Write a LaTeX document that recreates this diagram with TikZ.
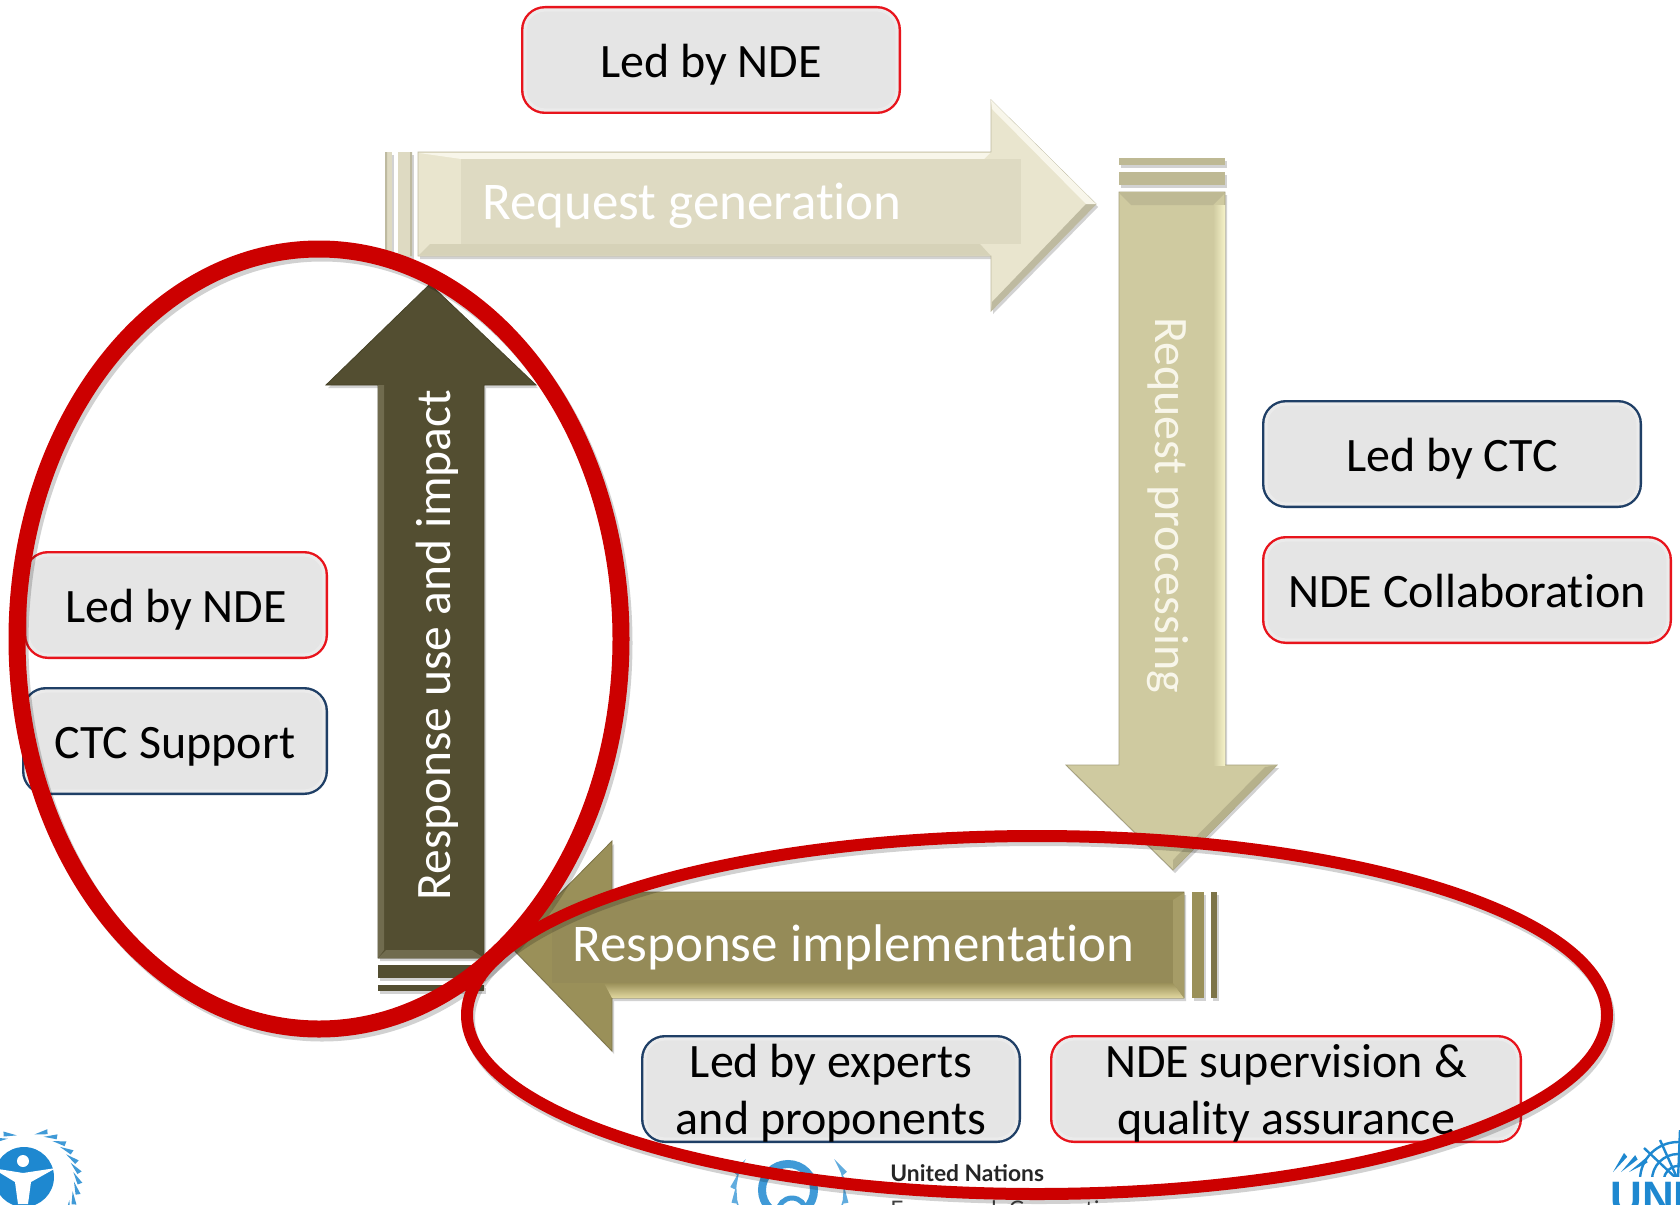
\documentclass[tikz,border=0pt]{standalone}
\usepackage{fontspec}
\setmainfont[Ligatures=NoCommon]{Carlito}
\newfontfamily\logofont{Lato}
\newfontfamily\unfont{Liberation Sans}
\usetikzlibrary{shadows}
\definecolor{ndered}{HTML}{E8141C}
\definecolor{ctcblue}{HTML}{1F3F66}
\definecolor{ringred}{HTML}{CC0000}
\definecolor{logoblue}{HTML}{1E88D0}
\definecolor{paleface}{HTML}{E9E5CE}
\definecolor{palehi}{HTML}{F8F6EA}
\definecolor{palelow}{HTML}{D6D2B8}
\definecolor{paleedge}{HTML}{BEBAA0}
\definecolor{palepanel}{HTML}{DEDAC2}
\definecolor{sandface}{HTML}{CFCAA0}
\definecolor{sandhi}{HTML}{F5F2C8}
\definecolor{sandlow}{HTML}{BEB994}
\definecolor{sandedge}{HTML}{A5A07D}
\definecolor{oliveface}{HTML}{9A9059}
\definecolor{olivehi}{HTML}{E2D8A0}
\definecolor{olivemid}{HTML}{A69C67}
\definecolor{olivepanel}{HTML}{958B58}
\definecolor{oliveedge}{HTML}{7D7448}
\definecolor{darkface}{HTML}{534E31}
\definecolor{darkhi}{HTML}{706B4E}
\definecolor{darkedge}{HTML}{464228}
\tikzset{
    ledbox/.style={rounded corners=10pt, fill=black!10, draw=white!92!black, line width=1.6pt,
        minimum height=50pt, outer sep=0pt, inner sep=0pt, align=center, text height=23pt, text depth=5.5pt,
        font=\fontsize{24}{28.5}\selectfont},
    tallbox/.style={text height=47.8pt, text depth=2pt},
    redbox/.style={ledbox, preaction={draw=ndered, line width=4pt}},
    bluebox/.style={ledbox, preaction={draw=ctcblue, line width=4pt}},
    stagelabel/.style={text=white, font=\fontsize{26.5}{30}\selectfont, inner sep=0pt},
    stageshape/.style={drop shadow={shadow xshift=1pt, shadow yshift=-1.5pt, opacity=0.35}},
    ring/.style={draw=ringred},
    ringshadow/.style={draw=black, opacity=0.18}
}
\begin{document}
\begin{tikzpicture}[x=0.5pt, y=-0.5pt]
    \clip (0, 0) rectangle (1680, 1204);
    \fill[white] (0, 0) rectangle (1680, 1204);
    % logos along the bottom
    \fill[logoblue] (24, 1177) circle (30);
    \fill[white] (23, 1161) circle (6);
    \fill[white] (-8, 1168) -- (23, 1173) -- (56, 1168) -- (31, 1182) -- (28, 1204) -- (18, 1204) -- (15, 1182) -- cycle;
    \foreach \ang in {-82, -70, ..., 34}
        \fill[logoblue!85] ({28 + 46*cos(\ang)}, {1180 + 46*sin(\ang)}) -- ++({\ang + 60}:14) -- ++({\ang + 170}:5) -- cycle;
    \foreach \ang in {-128, -116, -104}
        \fill[logoblue!85] ({28 + 46*cos(\ang)}, {1180 + 46*sin(\ang)}) -- ++({\ang - 60}:14) -- ++({\ang - 170}:5) -- cycle;
    \draw[logoblue!85, line width=4pt] (788, 1190) circle (26);
    \draw[logoblue!85, line width=2.5pt] (792, 1212) circle (14);
    \foreach \ang in {-35, -20, -5, 10} {
        \fill[logoblue!70] ({790 + 54*cos(\ang)}, {1190 + 54*sin(\ang)}) -- ++({\ang + 80}:18) -- ++({\ang + 175}:6) -- cycle;
        \fill[logoblue!70] ({790 - 54*cos(\ang)}, {1190 + 54*sin(\ang)}) -- ++({100 - \ang}:18) -- ++({5 - \ang}:6) -- cycle;
    }
    \node[anchor=base west, inner sep=0pt, font=\logofont\bfseries\fontsize{11.4}{12}\selectfont, text=black!85] (unitedtxt) at (890, 1181) {United Nations};
    \node[anchor=base west, inner sep=0pt, font=\logofont\fontsize{11.4}{12}\selectfont, text=black!75] (frameworktxt) at (890, 1217) {Framework Convention on};
    \begin{scope}
        \clip (1600, 1130) rectangle (1680, 1176);
        \draw[logoblue, line width=1.2pt] (1678, 1180) circle (38) circle (26) circle (14);
        \draw[logoblue, line width=1.2pt] (1678, 1180) -- (1644, 1148) (1678, 1180) -- (1660, 1140) (1678, 1180) -- (1680, 1130);
    \end{scope}
    \foreach \pos/\ang in {1613/-60, 1621/-50, 1629/-40}
        \fill[logoblue] (\pos, 1172) -- ++(\ang:22) -- ++(\ang + 110:5) -- cycle;
    \node[anchor=base west, inner sep=0pt, font=\unfont\bfseries\fontsize{22}{24}\selectfont, text=logoblue] (unitxt) at (1610, 1212) {UNI};
    % request generation
    \fill[stageshape, fill=palepanel] (385, 152) rectangle (392, 256);
    \fill[stageshape, fill=palepanel] (398, 152) rectangle (412, 256);
    \fill[paleedge] (385, 152) rectangle (387, 256) (410, 152) rectangle (412, 256);
    \path[stageshape, fill=paleface, draw=paleedge, line width=0.4pt] (418, 152) -- (991, 152) -- (991, 100) -- (1096, 204) -- (991, 311) -- (991, 256) -- (418, 256) -- cycle;
    \fill[palehi] (419, 153) -- (990, 153) -- (984, 159) -- (461, 159) -- cycle;
    \fill[palelow] (419, 255) -- (990, 255) -- (980, 244) -- (430, 244) -- cycle;
    \fill[paleedge] (1096, 204) -- (991, 311) -- (992, 302) -- (1086, 204) -- cycle;
    \fill[palehi] (1096, 204) -- (991, 100) -- (992, 109) -- (1086, 204) -- cycle;
    \fill[palepanel] (461, 159) rectangle (1021, 244);
    \node[stagelabel, anchor=west] (generationtxt) at (482, 206) {Request generation};
    % request processing
    \fill[stageshape, fill=sandlow] (1119, 158) rectangle (1225, 165);
    \fill[stageshape, fill=sandlow] (1119, 172) rectangle (1225, 185);
    \path[stageshape, fill=sandface, draw=sandedge, line width=0.4pt] (1119, 192) -- (1225, 192) -- (1225, 765) -- (1277, 765) -- (1173, 870) -- (1066, 765) -- (1119, 765) -- cycle;
    \shade[left color=sandface, right color=sandhi] (1213, 205) rectangle (1225, 765);
    \fill[sandlow] (1119, 193) -- (1225, 193) -- (1213, 205) -- (1131, 205) -- cycle;
    \fill[sandedge!60!sandface] (1277, 765) -- (1173, 870) -- (1173, 860) -- (1265, 767) -- cycle;
    \node[stagelabel, rotate=-90, text=palehi, font=\fontsize{24}{28}\selectfont] (processingtxt) at (1168, 505) {Request processing};
    % response implementation
    \fill[stageshape, fill=oliveface] (1192, 892) rectangle (1204, 998);
    \fill[stageshape, fill=oliveedge] (1211, 892) rectangle (1217, 998);
    \path[stageshape, fill=oliveface, draw=oliveedge, line width=0.4pt] (1184, 892) -- (612, 892) -- (612, 841) -- (509, 945) -- (612, 1051) -- (612, 998) -- (1184, 998) -- cycle;
    \shade[top color=oliveface, bottom color=olivehi] (1173, 983) -- (604, 983) -- (612, 998) -- (1184, 998) -- cycle;
    \fill[olivemid] (1184, 893) -- (1184, 998) -- (1173, 983) -- (1173, 900) -- cycle;
    \fill[olivepanel] (552, 900) rectangle (1173, 983);
    \node[stagelabel, anchor=west] (implementationtxt) at (572, 947) {Response implementation};
    % response use and impact
    \fill[stageshape, fill=darkface] (378, 965) rectangle (484, 978);
    \fill[stageshape, fill=darkface] (378, 985) rectangle (484, 991);
    \path[stageshape, fill=darkface, draw=darkedge, line width=0.4pt] (378, 958) -- (378, 385) -- (326, 385) -- (430, 284) -- (536, 385) -- (484, 385) -- (484, 958) -- cycle;
    \fill[darkhi] (378, 958) -- (484, 958) -- (472, 950) -- (386, 950) -- cycle;
    \fill[darkhi] (378, 958) -- (378, 385) -- (384, 385) -- (384, 950) -- cycle;
    \node[stagelabel, rotate=90, font=\fontsize{24.8}{28}\selectfont] (impacttxt) at (437, 645) {Response use and impact};
    % who leads
    \node[redbox, minimum width=186pt] (toplead) at (711, 60) {Led by NDE};
    \node[bluebox, minimum width=186pt] (ctclead) at (1452, 454) {Led by CTC};
    \node[redbox, minimum width=201pt] (ctccollab) at (1467, 590) {NDE Collaboration};
    \node[redbox, minimum width=148pt] (leftlead) at (176, 605) {Led by NDE};
    \node[bluebox, minimum width=149pt] (leftsupport) at (175, 741) {CTC Support};
    \node[bluebox, tallbox, minimum width=186pt] (expertlead) at (831, 1089) {Led by experts\\and proponents};
    \node[redbox, tallbox, minimum width=232pt] (ndesuper) at (1286, 1089) {NDE supervision \&\\quality assurance};
    % the two highlights
    \draw[ringshadow, line width=8.5pt] (322, 643) ellipse [x radius=302, y radius=390];
    \draw[ringshadow, line width=6pt] (1039, 1019) ellipse [x radius=570, y radius=179];
    \draw[ring, line width=6pt] (1037, 1015) ellipse [x radius=570, y radius=179];
    \draw[ring, line width=8.5pt] (319, 639) ellipse [x radius=302, y radius=390];
\end{tikzpicture}
\end{document}
